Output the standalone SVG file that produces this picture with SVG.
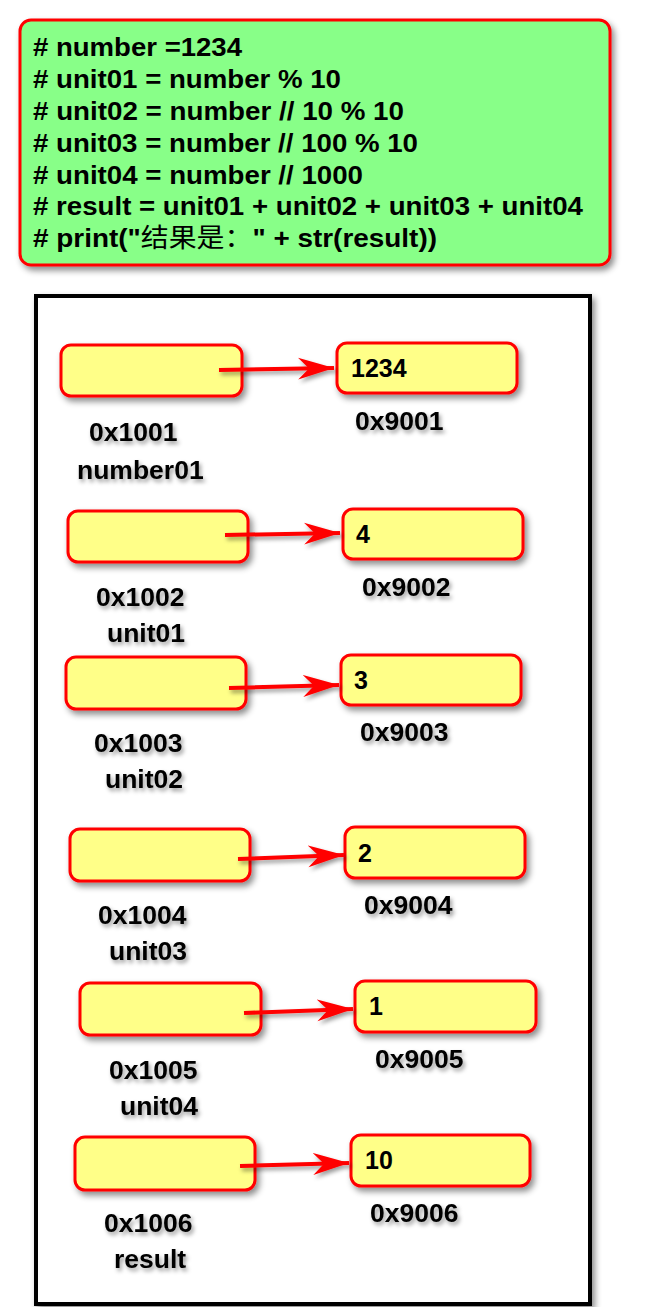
<svg xmlns="http://www.w3.org/2000/svg" width="667" height="1307" viewBox="0 0 667 1307">
<defs>
<filter id="sh" x="-20%" y="-20%" width="150%" height="160%">
<feDropShadow dx="3" dy="4" stdDeviation="3" flood-color="#000" flood-opacity="0.45"/>
</filter>
<filter id="tsh" x="-20%" y="-30%" width="150%" height="170%">
<feDropShadow dx="2" dy="3" stdDeviation="2" flood-color="#000" flood-opacity="0.4"/>
</filter>
<marker id="ah" markerUnits="userSpaceOnUse" markerWidth="38" markerHeight="24" refX="36" refY="12" orient="auto">
<path d="M0,1 L36,12 L0,23 L11,12 Z" fill="#ff0000"/>
</marker>
<style>
.code{font-family:"Liberation Sans",Arial,"Noto Sans CJK SC",sans-serif;font-weight:bold;font-size:26px;fill:#000}
.cjk{font-family:"Noto Sans CJK SC",sans-serif;font-weight:normal}
.box{fill:#ffff88;stroke:#ff0000;stroke-width:3}
.lbl{font-family:"Liberation Sans",Arial,sans-serif;font-weight:bold;font-size:26.5px;fill:#000}
.val{font-family:"Liberation Sans",Arial,sans-serif;font-weight:bold;font-size:25px;fill:#000}
.arr{stroke:#ff0000;stroke-width:4;fill:none}
</style>
</defs>
<rect width="667" height="1307" fill="#ffffff"/>
<g id="code">
<rect x="20" y="20" width="590" height="245" rx="11" fill="#88ff88" stroke="#ff0000" stroke-width="3" filter="url(#sh)"/>
<text class="code" x="33" y="56" textLength="209" lengthAdjust="spacingAndGlyphs"># number =1234</text>
<text class="code" x="33" y="88" textLength="308" lengthAdjust="spacingAndGlyphs"># unit01 = number % 10</text>
<text class="code" x="33" y="120" textLength="371" lengthAdjust="spacingAndGlyphs"># unit02 = number // 10 % 10</text>
<text class="code" x="33" y="152" textLength="385" lengthAdjust="spacingAndGlyphs"># unit03 = number // 100 % 10</text>
<text class="code" x="33" y="184" textLength="330" lengthAdjust="spacingAndGlyphs"># unit04 = number // 1000</text>
<text class="code" x="33" y="215" textLength="550" lengthAdjust="spacingAndGlyphs"># result = unit01 + unit02 + unit03 + unit04</text>
<text class="code" x="33" y="247" textLength="404" lengthAdjust="spacingAndGlyphs"># print("<tspan class="cjk">结果是：</tspan>" + str(result))</text>
</g>
<g id="frame">
<rect x="36" y="296" width="554" height="1008" fill="#ffffff" stroke="#000" stroke-width="4" filter="url(#sh)"/>
</g>
<g id="row1">
<rect class="box" x="61" y="345" width="181" height="51" rx="10" filter="url(#sh)"/>
<rect class="box" x="337" y="343" width="180" height="50" rx="10" filter="url(#sh)"/>
<text class="val" x="351" y="377">1234</text>
<text class="lbl" x="89" y="441" filter="url(#tsh)">0x1001</text>
<text class="lbl" x="77" y="479" filter="url(#tsh)">number01</text>
<text class="lbl" x="355" y="430" filter="url(#tsh)">0x9001</text>
</g>
<g id="row2">
<rect class="box" x="68" y="511" width="180" height="51" rx="10" filter="url(#sh)"/>
<rect class="box" x="343" y="509" width="180" height="50" rx="10" filter="url(#sh)"/>
<text class="val" x="356" y="543">4</text>
<text class="lbl" x="96" y="606" filter="url(#tsh)">0x1002</text>
<text class="lbl" x="107" y="642" filter="url(#tsh)">unit01</text>
<text class="lbl" x="362" y="596" filter="url(#tsh)">0x9002</text>
</g>
<g id="row3">
<rect class="box" x="66" y="657" width="180" height="52" rx="10" filter="url(#sh)"/>
<rect class="box" x="341" y="655" width="180" height="50" rx="10" filter="url(#sh)"/>
<text class="val" x="354" y="689">3</text>
<text class="lbl" x="94" y="752" filter="url(#tsh)">0x1003</text>
<text class="lbl" x="105" y="788" filter="url(#tsh)">unit02</text>
<text class="lbl" x="360" y="741" filter="url(#tsh)">0x9003</text>
</g>
<g id="row4">
<rect class="box" x="70" y="829" width="180" height="52" rx="10" filter="url(#sh)"/>
<rect class="box" x="345" y="827" width="180" height="51" rx="10" filter="url(#sh)"/>
<text class="val" x="358" y="862">2</text>
<text class="lbl" x="98" y="924" filter="url(#tsh)">0x1004</text>
<text class="lbl" x="109" y="960" filter="url(#tsh)">unit03</text>
<text class="lbl" x="364" y="914" filter="url(#tsh)">0x9004</text>
</g>
<g id="row5">
<rect class="box" x="80" y="983" width="181" height="52" rx="10" filter="url(#sh)"/>
<rect class="box" x="355" y="981" width="181" height="51" rx="10" filter="url(#sh)"/>
<text class="val" x="369" y="1015">1</text>
<text class="lbl" x="109" y="1079" filter="url(#tsh)">0x1005</text>
<text class="lbl" x="120" y="1115" filter="url(#tsh)">unit04</text>
<text class="lbl" x="375" y="1068" filter="url(#tsh)">0x9005</text>
</g>
<g id="row6">
<rect class="box" x="75" y="1137" width="180" height="53" rx="10" filter="url(#sh)"/>
<rect class="box" x="351" y="1135" width="179" height="51" rx="10" filter="url(#sh)"/>
<text class="val" x="365" y="1169">10</text>
<text class="lbl" x="104" y="1232" filter="url(#tsh)">0x1006</text>
<text class="lbl" x="114" y="1268" filter="url(#tsh)">result</text>
<text class="lbl" x="370" y="1222" filter="url(#tsh)">0x9006</text>
</g>
<g id="connectors" filter="url(#tsh)">
<line class="arr" x1="219" y1="370" x2="334" y2="368" marker-end="url(#ah)"/>
<line class="arr" x1="225" y1="535" x2="340" y2="533" marker-end="url(#ah)"/>
<line class="arr" x1="229" y1="688" x2="339" y2="685" marker-end="url(#ah)"/>
<line class="arr" x1="238" y1="859" x2="344" y2="855" marker-end="url(#ah)"/>
<line class="arr" x1="244" y1="1013" x2="353" y2="1009" marker-end="url(#ah)"/>
<line class="arr" x1="240" y1="1166" x2="349" y2="1163" marker-end="url(#ah)"/>
</g>
</svg>
